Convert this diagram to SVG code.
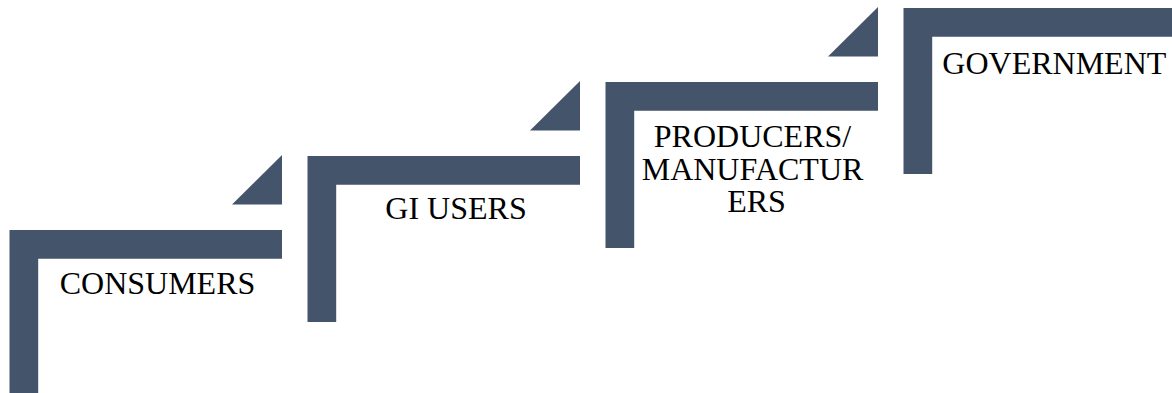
<svg xmlns="http://www.w3.org/2000/svg" width="1172" height="393" viewBox="0 0 1172 393">
  <style>
    .step { fill: #44546A; }
    .label { font-size: 32px; fill: #000; }
  </style>
  <defs>
    <!-- L-shaped step bracket, origin at its top-left corner -->
    <path id="bracket" d="M0 0 H272.5 V28.7 H28.7 V166 H0 Z"/>
    <!-- small corner wedge sitting above the bracket's right end -->
    <path id="wedge" d="M222.5 -25.5 H272.5 V-75 Z"/>
  </defs>
  <rect width="1172" height="393" fill="#fff"/>

  <g id="consumers" transform="translate(9.5 230)">
    <use href="#bracket" class="step"/>
    <use href="#wedge" class="step"/>
  </g>
  <text class="label" font-family="Liberation Serif, DejaVu Serif, serif" x="157.5" y="293.5" text-anchor="middle">CONSUMERS</text>

  <g id="gi-users" transform="translate(307.5 156)">
    <use href="#bracket" class="step"/>
    <use href="#wedge" class="step"/>
  </g>
  <text class="label" font-family="Liberation Serif, DejaVu Serif, serif" x="456" y="219" text-anchor="middle">GI USERS</text>

  <g id="producers" transform="translate(605.5 82)">
    <use href="#bracket" class="step"/>
    <use href="#wedge" class="step"/>
  </g>
  <text class="label" font-family="Liberation Serif, DejaVu Serif, serif" text-anchor="middle">
    <tspan x="756.5" y="146.7">PRODUCERS/</tspan>
    <tspan x="756.5" y="179.5">MANUFACTUR</tspan>
    <tspan x="756.5" y="212.3">ERS</tspan>
  </text>

  <g id="government" transform="translate(903.5 8)">
    <use href="#bracket" class="step"/>
  </g>
  <text class="label" font-family="Liberation Serif, DejaVu Serif, serif" x="942.3" y="73.5">GOVERNMENT</text>

  <g id="connectors"/>
</svg>
